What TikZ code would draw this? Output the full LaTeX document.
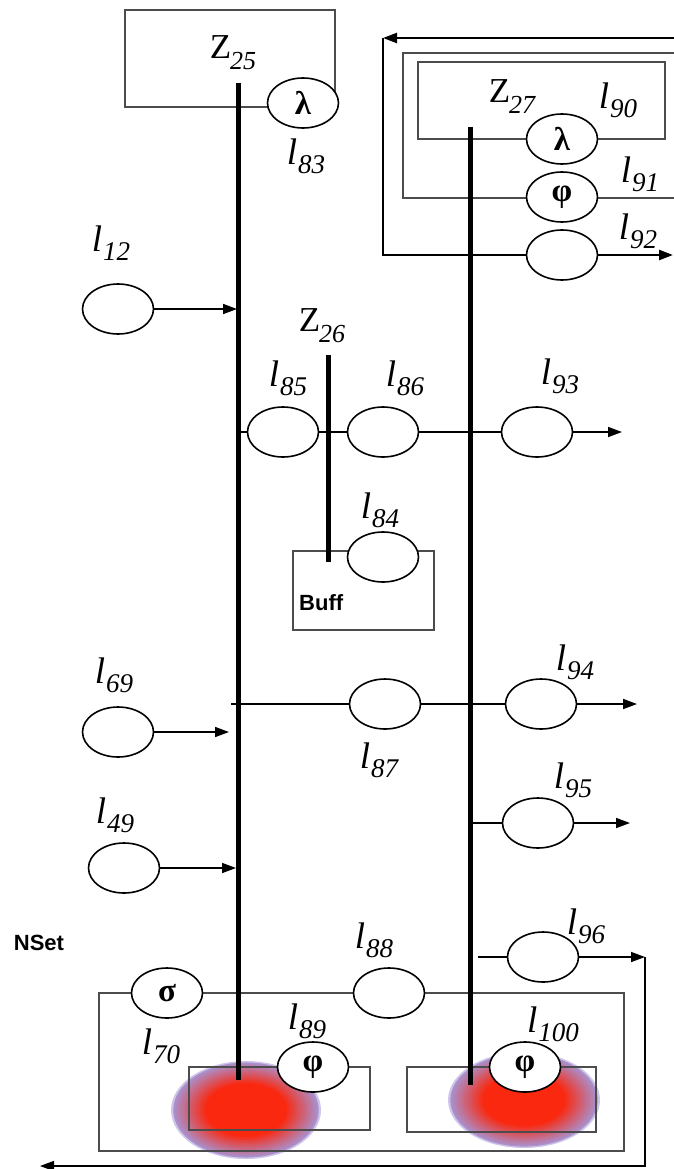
\documentclass[tikz,border=0pt]{standalone}
\usepackage{fontspec}
\setmainfont{Liberation Serif}
\newfontfamily\sansbold{Liberation Sans}
\usetikzlibrary{arrows.meta,shapes.geometric}
\definecolor{blobred}{RGB}{250,40,15}
\definecolor{blobrim}{RGB}{165,150,215}
\newcommand{\plabel}[1]{{\fontsize{37}{40}\selectfont\itshape l\kern1pt\raisebox{-9pt}{\fontsize{27}{30}\selectfont #1}}}
\newcommand{\tlabel}[1]{{\fontsize{35}{40}\selectfont Z\kern-1pt\raisebox{-11pt}{\fontsize{26}{30}\selectfont\itshape #1}}}
\newcommand{\glyph}[1]{{\fontsize{33}{36}\selectfont\bfseries #1}}

\begin{document}
\begin{tikzpicture}[x=1pt,y=-1pt,
  place/.style={ellipse, draw, fill=white, minimum width=71pt, minimum height=50pt, inner sep=0pt, line width=1.6pt},
  lab/.style={inner sep=0pt},
  frame/.style={draw=black!70, line width=1.3pt},
  arc/.style={line width=1.6pt},
  tip/.style={-{Triangle[length=14pt,width=10pt]}},
  bar/.style={line width=5pt},
  loopline/.style={line width=2.4pt}
]
\useasboundingbox (0,0) rectangle (674,1169);
\foreach \cx/\cy/\rx/\ry in {246/1110/75/49, 524/1100/76/48} {
  \fill[blobrim!55!white] (\cx,\cy) ellipse [x radius=\rx, y radius=\ry];
  \foreach \s in {0.97,0.94,...,0.40} {
    \pgfmathsetmacro{\p}{min(100,(1-\s)*220)}
    \fill[blobred!\p!blobrim] (\cx,\cy) ellipse [x radius=\rx*\s, y radius=\ry*\s];
  }
}

\draw[frame] (125,10) rectangle (335,107);
\draw[frame] (674,53) -- (403,53) -- (403,198) -- (674,198);
\draw[frame] (418,62) rectangle (665,139);
\draw[frame] (293,551) rectangle (434,630);
\draw[frame] (99,993) rectangle (624,1151);
\draw[frame] (189,1067) rectangle (370,1130);
\draw[frame] (407,1067) rectangle (596,1132);

\node[place] (l83) at (303,103) {\glyph{λ}};
\node[place] (l90) at (562,139) {\glyph{λ}};
\node[place] (l91) at (562,197) {\glyph{φ}};
\node[place] (l92) at (562,255) {};
\node[place] (l12) at (118,309) {};
\node[place] (l85) at (283,432) {};
\node[place] (l86) at (383,432) {};
\node[place] (l93) at (537,432) {};
\node[place] (l84) at (383,557) {};
\node[place] (l87) at (385,704) {};
\node[place] (l94) at (541,704) {};
\node[place] (l69) at (118,732) {};
\node[place] (l95) at (538,823) {};
\node[place] (l49) at (124,868) {};
\node[place] (l96) at (543,957) {};
\node[place] (l70) at (167,993) {\glyph{σ}};
\node[place] (l88) at (389,993) {};
\node[place] (l89) at (313,1067) {\glyph{φ}};
\node[place] (l100) at (525,1067) {\glyph{φ}};

\coordinate (z25top) at (238,83);
\coordinate (z25bot) at (238,1080);
\coordinate (z26top) at (328,355);
\coordinate (z26bot) at (328,562);
\coordinate (z27top) at (470,127);
\coordinate (z27bot) at (470,1085);
\coordinate (loopr) at (674,38);
\coordinate (loopl) at (383,38);
\coordinate (loopd) at (383,255);
\coordinate (out92) at (673,255);
\coordinate (in12) at (237,309);
\coordinate (a85) at (239,432);
\coordinate (out93) at (622,432);
\coordinate (a87) at (231,704);
\coordinate (out94) at (637,704);
\coordinate (in69) at (229,732);
\coordinate (a95) at (470,823);
\coordinate (out95) at (630,823);
\coordinate (in49) at (236,868);
\coordinate (a96) at (478,957);
\coordinate (out96) at (645,957);
\coordinate (back96) at (40,1166);

\draw[loopline,tip] (loopr) -- (loopl);
\draw[loopline] (loopl) -- (loopd) -- (l92);
\draw[loopline,tip] (l92) -- (out92);
\draw[arc,tip] (l12) -- (in12);
\draw[arc] (a85) -- (l85) -- (l86) -- (l93);
\draw[arc,tip] (l93) -- (out93);
\draw[arc] (a87) -- (l87) -- (l94);
\draw[arc,tip] (l94) -- (out94);
\draw[arc,tip] (l69) -- (in69);
\draw[arc] (a95) -- (l95);
\draw[arc,tip] (l95) -- (out95);
\draw[arc,tip] (l49) -- (in49);
\draw[arc] (a96) -- (l96);
\draw[arc,tip] (l96) -- (out96);
\draw[arc,tip] (out96) |- (back96);

\draw[bar] (z25top) -- (z25bot);
\draw[bar] (z26top) -- (z26bot);
\draw[bar] (z27top) -- (z27bot);

\node[lab] (tz25) at (233,53) {\tlabel{25}};
\node[lab] (tz26) at (322,326) {\tlabel{26}};
\node[lab] (tz27) at (512,97) {\tlabel{27}};
\node[lab] (t83) at (306,156) {\plabel{83}};
\node[lab] (t90) at (618,100) {\plabel{90}};
\node[lab] (t91) at (640,174) {\plabel{91}};
\node[lab] (t92) at (638,231) {\plabel{92}};
\node[lab] (t12) at (111,243) {\plabel{12}};
\node[lab] (t85) at (288,378) {\plabel{85}};
\node[lab] (t86) at (405,378) {\plabel{86}};
\node[lab] (t93) at (560,376) {\plabel{93}};
\node[lab] (t84) at (380,510) {\plabel{84}};
\node[lab] (t69) at (114,675) {\plabel{69}};
\node[lab] (t94) at (575,662) {\plabel{94}};
\node[lab] (t87) at (379,760) {\plabel{87}};
\node[lab] (t95) at (573,780) {\plabel{95}};
\node[lab] (t49) at (115,815) {\plabel{49}};
\node[lab] (t88) at (374,940) {\plabel{88}};
\node[lab] (t96) at (586,926) {\plabel{96}};
\node[lab] (t70) at (161,1046) {\plabel{70}};
\node[lab] (t89) at (307,1021) {\plabel{89}};
\node[lab] (t100) at (553,1024) {\plabel{100}};
\node[lab, anchor=west, font={\sansbold\bfseries\fontsize{22}{24}\selectfont}] (buff) at (299,603) {Buff};
\node[lab, font={\sansbold\bfseries\fontsize{22}{24}\selectfont}] (nset) at (39,943) {NSet};
\end{tikzpicture}
\end{document}
